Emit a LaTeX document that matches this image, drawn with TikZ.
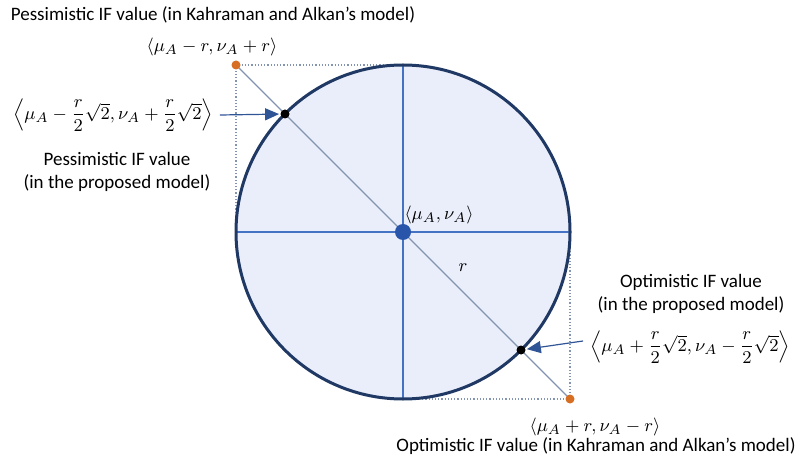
\documentclass[tikz,border=0pt]{standalone}
\usepackage{amsmath}
\usepackage{fontspec}
\setmainfont{Carlito}
\usetikzlibrary{arrows.meta}

\definecolor{circfill}{RGB}{233,238,250}
\definecolor{circline}{RGB}{31,56,100}
\definecolor{crossblue}{RGB}{68,114,196}
\definecolor{diaggray}{RGB}{130,148,176}
\definecolor{dotorange}{RGB}{214,110,36}
\definecolor{centreblue}{RGB}{40,84,170}
\definecolor{arrowblue}{RGB}{47,85,151}

\tikzset{
  dot/.style={circle,inner sep=0pt,minimum size=4.5pt},
  boxline/.style={diaggray,densely dotted,line width=0.6pt},
  crossline/.style={crossblue,line width=0.6pt},
  diagline/.style={diaggray,line width=0.6pt},
  pointer/.style={->,arrowblue,line width=0.6pt,shorten >=0.5pt}
}

\begin{document}
\begin{tikzpicture}[x=0.5pt,y=-0.5pt,>={Triangle[length=7pt,width=6pt]},font=\fontsize{9.5}{11.5}\selectfont]
  \useasboundingbox (0,0) rectangle (806,459);
  \coordinate (C) at (403,232);
  \coordinate (tl) at (236,65);
  \coordinate (br) at (570,399);
  % disc, cross and corner box
  \fill[circfill] (C) circle (167);
  \draw[crossline] (236,232) -- (570,232);
  \draw[crossline] (403,65) -- (403,399);
  \draw[boxline] (236,232) |- (403,65);
  \draw[boxline] (403,399) -| (570,232);
  \draw[diagline] (tl) -- (br);
  \draw[circline,line width=1.5pt] (C) circle (167);
  % points
  \node[dot,fill=dotorange] (kp) at (tl) {};
  \node[dot,fill=dotorange] (ko) at (br) {};
  \node[dot,fill=black] (pp) at (285,114) {};
  \node[dot,fill=black] (po) at (521,350) {};
  \node[dot,fill=centreblue,minimum size=8pt] (c) at (C) {};
  \node (cl) at (439,215) {$\langle\mu_A,\nu_A\rangle$};
  \node (rl) at (463,268) {$r$};
  % Kahraman and Alkan's values
  \node (kpt) at (213,15) {Pessimistic IF value (in Kahraman and Alkan's model)};
  \node (kpf) at (212,47) {$\langle\mu_A-r,\nu_A+r\rangle$};
  \node (kof) at (595,427) {$\langle\mu_A+r,\nu_A-r\rangle$};
  \node (kot) at (596,446) {Optimistic IF value (in Kahraman and Alkan's model)};
  % proposed model values
  \node (ppf) at (113,115) {$\left\langle\mu_A-\dfrac{r}{2}\sqrt{2},\nu_A+\dfrac{r}{2}\sqrt{2}\right\rangle$};
  \node[align=center] (ppt) at (117,172) {Pessimistic IF value\\(in the proposed model)};
  \node[align=center] (pot) at (691,294) {Optimistic IF value\\(in the proposed model)};
  \node (pof) at (690,347) {$\left\langle\mu_A+\dfrac{r}{2}\sqrt{2},\nu_A-\dfrac{r}{2}\sqrt{2}\right\rangle$};
  \draw[pointer] (ppf.east) -- (pp);
  \draw[pointer] ([yshift=3pt]pof.west) -- (po);
\end{tikzpicture}
\end{document}
